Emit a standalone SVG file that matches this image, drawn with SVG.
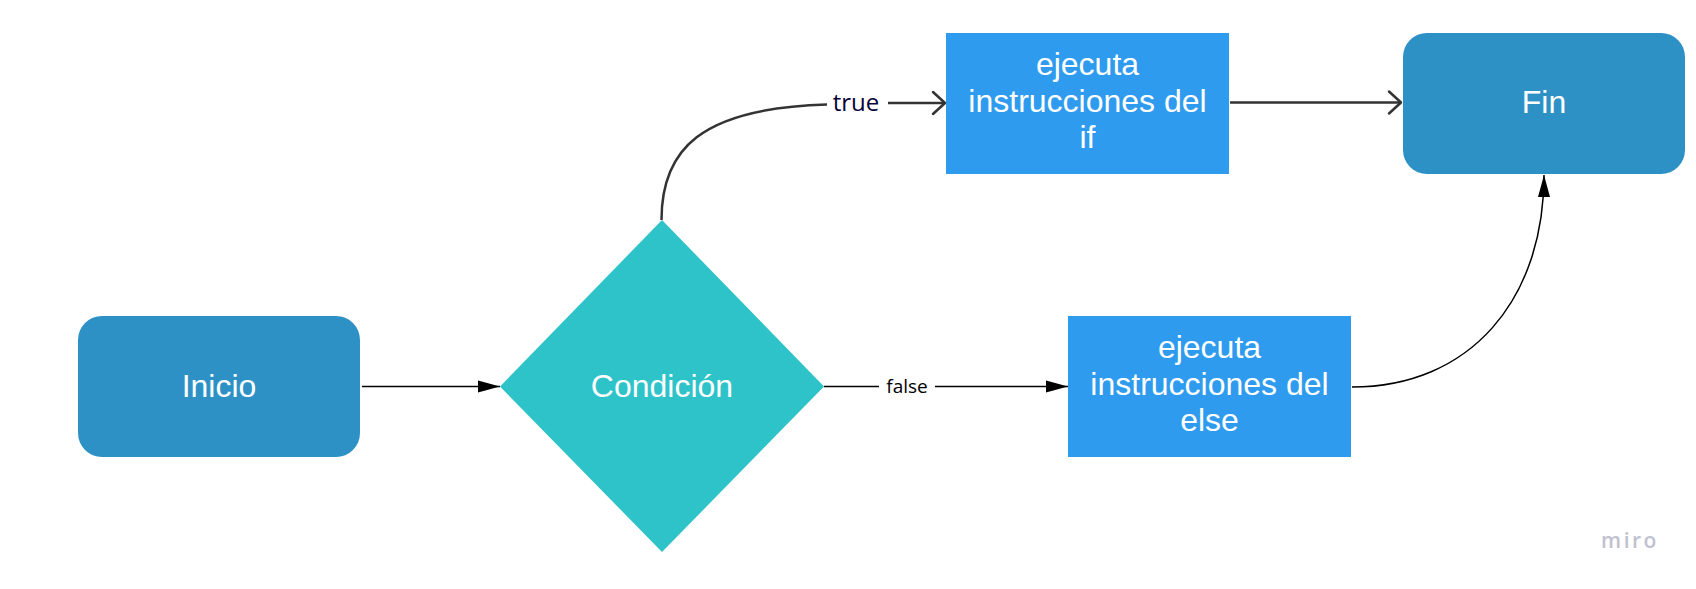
<svg xmlns="http://www.w3.org/2000/svg" width="1696" height="589" viewBox="0 0 1696 589">
  <style>
    .node-text { font-family: "Liberation Sans", Arial, sans-serif; font-size: 32px; fill: #ffffff; text-anchor: middle; }
    .thin { fill: none; stroke: #000000; stroke-width: 1.5; }
    .thick { fill: none; stroke: #333333; stroke-width: 2.5; }
    .label { font-family: "Open Sans", "Noto Sans", sans-serif; text-anchor: middle; }
  </style>
  <defs>
    <marker id="filled" markerUnits="userSpaceOnUse" markerWidth="22" markerHeight="12" refX="22" refY="6" orient="auto" overflow="visible">
      <path d="M0,0 L22,6 L0,12 Z" fill="#000000"/>
    </marker>
    <marker id="open" markerUnits="userSpaceOnUse" markerWidth="13" markerHeight="24" refX="13" refY="12" orient="auto" overflow="visible">
      <path d="M1,1 L13,12 L1,23" fill="none" stroke="#333333" stroke-width="2.5" stroke-linecap="round" stroke-linejoin="round"/>
    </marker>
  </defs>
  <rect width="1696" height="589" fill="#ffffff"/>

  <g id="connectors">
    <line class="thin" x1="362" y1="386.5" x2="500" y2="386.5" marker-end="url(#filled)"/>
    <path class="thick" d="M661.5,220 C661.5,150 700,108 827,104.5"/>
    <line class="thick" x1="888" y1="103" x2="945" y2="103" marker-end="url(#open)"/>
    <text class="label" x="856" y="111" font-size="24" fill="#050038">true</text>
    <line class="thick" x1="1230" y1="102.5" x2="1401" y2="102.5" marker-end="url(#open)"/>
    <line class="thin" x1="824" y1="386.5" x2="879" y2="386.5"/>
    <line class="thin" x1="935" y1="386.5" x2="1068" y2="386.5" marker-end="url(#filled)"/>
    <text class="label" x="907" y="392.5" font-size="19" fill="#000000">false</text>
    <path class="thin" d="M1352,387 C1470,387 1544,300 1544,175" marker-end="url(#filled)"/>
  </g>

  <g id="inicio">
    <rect x="78" y="316" width="282" height="141" rx="24" ry="24" fill="#2d91c6"/>
    <text class="node-text" x="219" y="397">Inicio</text>
  </g>

  <g id="condicion">
    <polygon points="662,220 824,386.5 662,552 500,386.5" fill="#2dc3c8"/>
    <text class="node-text" x="662" y="397">Condición</text>
  </g>

  <g id="if-block">
    <rect x="946" y="33" width="283" height="141" fill="#2f9bee"/>
    <text class="node-text" x="1087.5" y="75">ejecuta</text>
    <text class="node-text" x="1087.5" y="111.5">instrucciones del</text>
    <text class="node-text" x="1087.5" y="148">if</text>
  </g>

  <g id="else-block">
    <rect x="1068" y="316" width="283" height="141" fill="#2f9bee"/>
    <text class="node-text" x="1209.5" y="358">ejecuta</text>
    <text class="node-text" x="1209.5" y="394.5">instrucciones del</text>
    <text class="node-text" x="1209.5" y="431">else</text>
  </g>

  <g id="fin">
    <rect x="1403" y="33" width="282" height="141" rx="24" ry="24" fill="#2d91c6"/>
    <text class="node-text" x="1544" y="113">Fin</text>
  </g>

  <text x="1630" y="548" font-family="'Open Sans', 'Noto Sans', sans-serif" font-size="21" font-weight="600" letter-spacing="2.5" fill="#bfc1cf" text-anchor="middle">miro</text>
</svg>
